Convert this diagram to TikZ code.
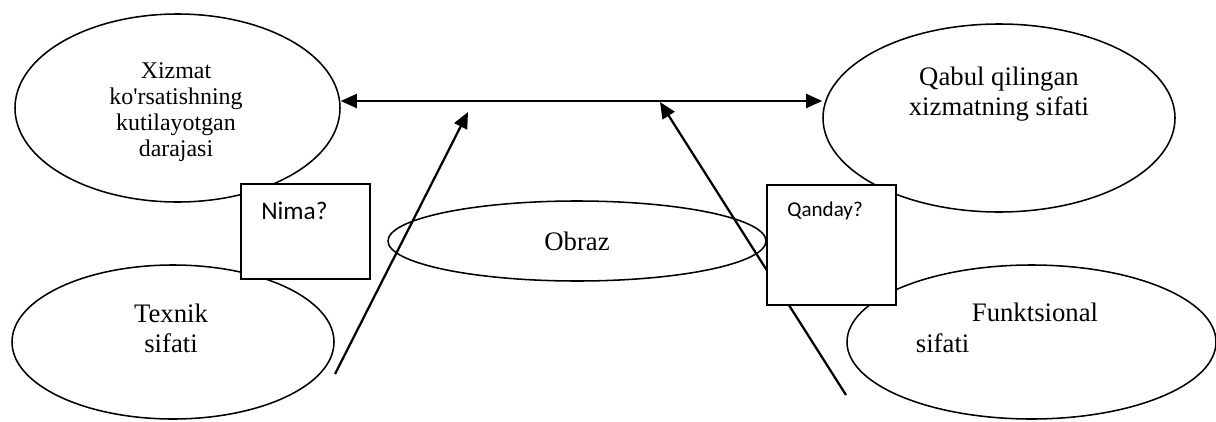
\documentclass[tikz,border=0pt]{standalone}
\usepackage{fontspec}
\setmainfont{Liberation Serif}
\newfontfamily\boxfont{Carlito}
\usetikzlibrary{positioning,shapes.geometric,arrows.meta}

\newlength\pxu
\setlength\pxu{0.025cm}

\tikzset{
    oval/.style={draw, ellipse, line width=1.1pt, inner sep=0pt},
    qbox/.style={draw, fill=white, line width=1.4pt, inner sep=0pt},
    qtext/.style={inner sep=0pt, font=\boxfont},
    link/.style={line width=1.6pt, ->},
    both/.style={line width=1.6pt, <->},
}

\begin{document}
\begin{tikzpicture}[x=\pxu, y=-\pxu, font=\fontsize{19}{21.5}\selectfont,
    >={Triangle[length=11.5pt, width=10pt]}]
    \useasboundingbox (0,0) rectangle (1216,421);

    % the four quality ovals and the image in the middle
    \node[oval, minimum width=325\pxu, minimum height=188\pxu] (xizmat) at (177.5,108) {};
    \node[align=center, font=\fontsize{17}{18.6}\selectfont] (xizmat-txt) at (176,112)
        {Xizmat\\ko\textquotesingle rsatishning\\kutilayotgan\\darajasi};
    \node[oval, minimum width=352\pxu, minimum height=188\pxu] (qabul) at (999,118) {};
    \node[align=center] (qabul-txt) at (999,94) {Qabul qilingan\\xizmatning sifati};
    \node[oval, minimum width=322\pxu, minimum height=154\pxu] (texnik) at (173,342) {};
    \node[align=center, font=\fontsize{19}{21.5}\selectfont] (texnik-txt) at (171,328) {Texnik\\sifati};
    \node[oval, minimum width=369\pxu, minimum height=154\pxu] (funk) at (1031.5,342) {};
    \node[align=left, font=\fontsize{19}{22}\selectfont] (funk-txt) at (1007,328)
        {\hspace*{56\pxu}Funktsional\\sifati};
    \node[oval, minimum width=378\pxu, minimum height=80\pxu] (obraz) at (577,241) {Obraz};

    \coordinate (top) at (580,101);
    \coordinate (left-foot) at (335,374);
    \coordinate (left-tip) at (468,112);
    \coordinate (right-foot) at (846,395);
    \coordinate (right-tip) at (660,102);

    \draw[both] (top -| xizmat.east) -- (top -| qabul.west);
    \draw[link] (left-foot) -- (left-tip);
    \draw[link] (right-foot) -- (right-tip);

    % question boxes sit on top of everything
    \node[qbox, minimum width=129\pxu, minimum height=95\pxu] (nima) at (305.5,231.5) {};
    \node[qtext, font=\boxfont\fontsize{18}{21}\selectfont,
        below right=19\pxu and 21\pxu of nima.north west] (nima-txt) {Nima?};
    \node[qbox, minimum width=129\pxu, minimum height=120\pxu] (qanday) at (831.5,245) {};
    \node[qtext, font=\boxfont\fontsize{15}{18}\selectfont,
        below right=18\pxu and 21\pxu of qanday.north west] (qanday-txt) {Qanday?};
\end{tikzpicture}
\end{document}
